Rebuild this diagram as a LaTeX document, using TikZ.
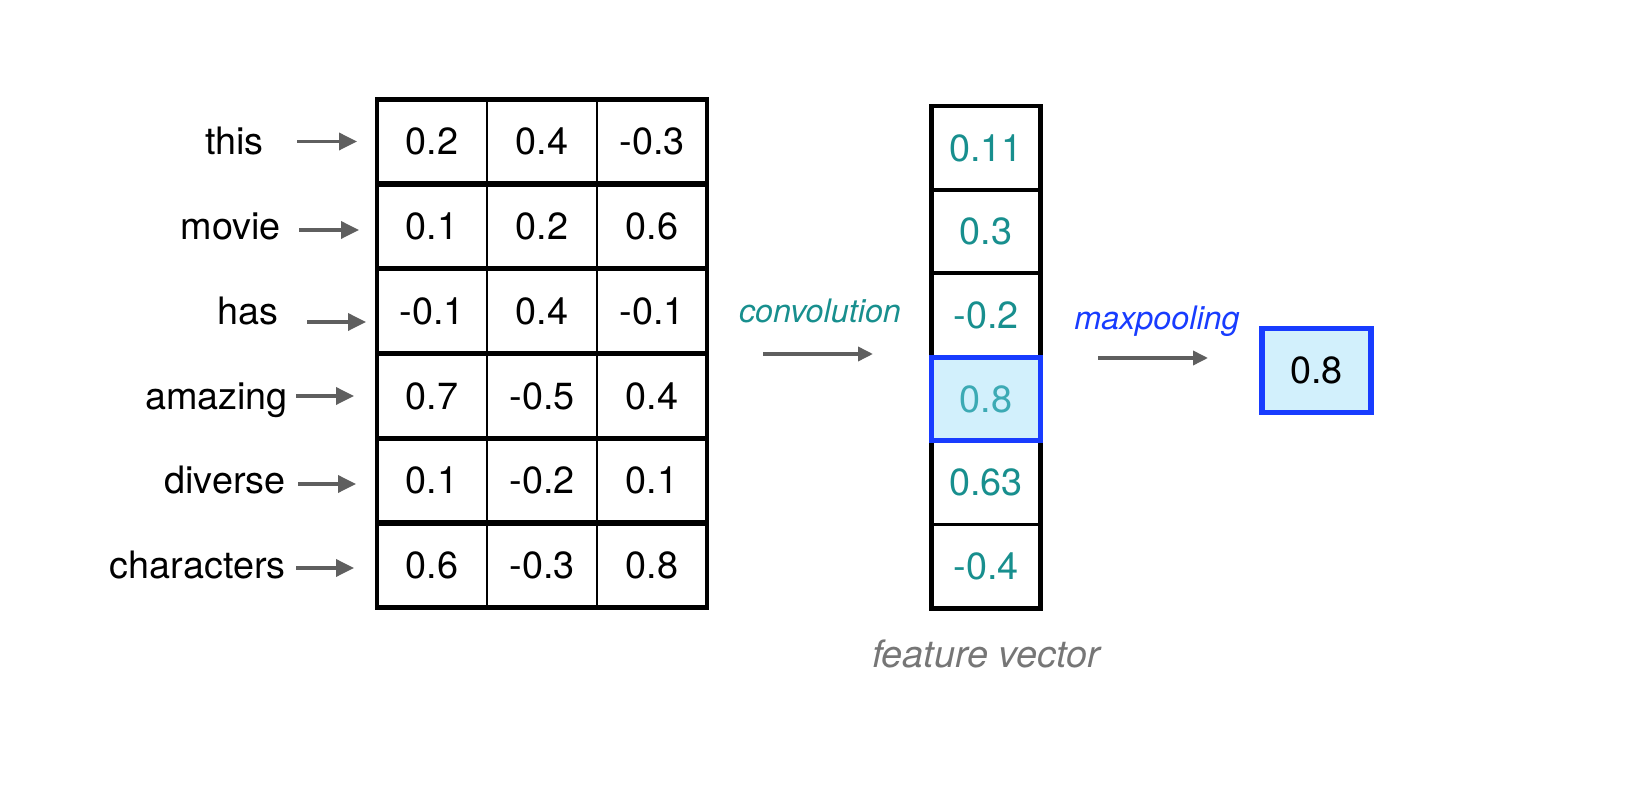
\documentclass[tikz,border=0pt]{standalone}
\usepackage{fontspec}
\setmainfont{TeX Gyre Heros}
\usepackage{tikz}
\usetikzlibrary{arrows.meta,positioning}

\definecolor{tealtext}{RGB}{24,143,142}
\definecolor{picktext}{RGB}{60,170,180}
\definecolor{poolblue}{RGB}{24,60,255}
\definecolor{pickfill}{RGB}{210,240,252}
\definecolor{labelgray}{RGB}{118,118,118}
\definecolor{arrowgray}{RGB}{95,95,95}

\newcommand{\numfont}{\fontsize{21.5}{26}\selectfont}
\newcommand{\opfont}{\fontsize{18.4}{22}\selectfont\itshape}

\begin{document}
\begin{tikzpicture}[
    word/.style={anchor=base east, font=\numfont},
    cell/.style={draw, line width=1.1pt, minimum width=2.2cm, minimum height=1.696cm,
                 inner sep=0pt, outer sep=0pt, font=\numfont},
    rowbox/.style={draw, line width=2.8pt, minimum width=6.6cm, minimum height=1.696cm,
                   inner sep=0pt, outer sep=0pt},
    feat/.style={draw, line width=1.9pt, minimum width=2.18cm, minimum height=1.674cm,
                 inner sep=0pt, outer sep=0pt, font=\numfont, text=tealtext},
    pick/.style={draw=poolblue, line width=3pt, fill=pickfill, minimum width=2.18cm,
                 minimum height=1.674cm, inner sep=0pt, outer sep=0pt, font=\numfont},
    feed/.style={-{Triangle[length=0.36cm, width=0.34cm]}, line width=2pt, arrowgray},
    flow/.style={-{Triangle[length=0.3cm, width=0.28cm]}, line width=2pt, arrowgray},
]
\useasboundingbox (0,0) rectangle (32.56,15.96);

% Word embedding cells
\node[cell] (c11) at (8.64,13.13) {0.2};
\node[cell] (c12) at (10.84,13.13) {0.4};
\node[cell] (c13) at (13.04,13.13) {-0.3};
\node[cell] (c21) at (8.64,11.43) {0.1};
\node[cell] (c22) at (10.84,11.43) {0.2};
\node[cell] (c23) at (13.04,11.43) {0.6};
\node[cell] (c31) at (8.64,9.74) {-0.1};
\node[cell] (c32) at (10.84,9.74) {0.4};
\node[cell] (c33) at (13.04,9.74) {-0.1};
\node[cell] (c41) at (8.64,8.04) {0.7};
\node[cell] (c42) at (10.84,8.04) {-0.5};
\node[cell] (c43) at (13.04,8.04) {0.4};
\node[cell] (c51) at (8.64,6.35) {0.1};
\node[cell] (c52) at (10.84,6.35) {-0.2};
\node[cell] (c53) at (13.04,6.35) {0.1};
\node[cell] (c61) at (8.64,4.65) {0.6};
\node[cell] (c62) at (10.84,4.65) {-0.3};
\node[cell] (c63) at (13.04,4.65) {0.8};

% Thick outline of each row
\node[rowbox] (r1) at (10.84,13.13) {};
\node[rowbox] (r2) at (10.84,11.43) {};
\node[rowbox] (r3) at (10.84,9.74) {};
\node[rowbox] (r4) at (10.84,8.04) {};
\node[rowbox] (r5) at (10.84,6.35) {};
\node[rowbox] (r6) at (10.84,4.65) {};

% Words
\node[word] (w1) at (5.40,12.86) {this};
\node[word] (w2) at (5.74,11.16) {movie};
\node[word] (w3) at (5.70,9.47) {has};
\node[word] (w4) at (5.88,7.77) {amazing};
\node[word] (w5) at (5.84,6.08) {diverse};
\node[word] (w6) at (5.84,4.38) {characters};

% Word -> row arrows
\draw[feed] ([xshift=-1.6cm]r1.west) -- ([xshift=-0.4cm]r1.west);
\draw[feed] ([xshift=-1.56cm, yshift=-0.07cm]r2.west) -- ([xshift=-0.36cm, yshift=-0.07cm]r2.west);
\draw[feed] ([xshift=-1.4cm, yshift=-0.22cm]r3.west) -- ([xshift=-0.22cm, yshift=-0.22cm]r3.west);
\draw[feed] ([xshift=-1.62cm]r4.west) -- ([xshift=-0.46cm]r4.west);
\draw[feed] ([xshift=-1.58cm, yshift=-0.07cm]r5.west) -- ([xshift=-0.42cm, yshift=-0.07cm]r5.west);
\draw[feed] ([xshift=-1.62cm, yshift=-0.05cm]r6.west) -- ([xshift=-0.46cm, yshift=-0.05cm]r6.west);

% Feature vector
\node[feat] (f1) at (19.72,13.00) {0.11};
\node[feat] (f2) at (19.72,11.33) {0.3};
\node[feat] (f3) at (19.72,9.66) {-0.2};
\node[feat] (f4) at (19.72,7.98) {};
\node[feat] (f5) at (19.72,6.31) {0.63};
\node[feat] (f6) at (19.72,4.63) {-0.4};
\draw[line width=2.6pt] (f1.north west) rectangle (f6.south east);
\node[pick, text=picktext] (m) at (f4) {0.8};
\node[font=\numfont\itshape, text=labelgray, anchor=base] (fvlabel) at (19.72,2.62) {feature vector};

% Convolution step
\coordinate (cv0) at (15.26,8.88);
\coordinate (cv1) at (17.46,8.88);
\draw[flow] (cv0) -- (cv1);
\node[font=\opfont, text=tealtext, anchor=base] (conv) at (16.40,9.51) {convolution};

% Max pooling step
\coordinate (mp0) at (21.96,8.80);
\coordinate (mp1) at (24.16,8.80);
\draw[flow] (mp0) -- (mp1);
\node[font=\opfont, text=poolblue, anchor=base] (pool) at (23.14,9.37) {maxpooling};
\node[pick] (out) at (26.33,8.55) {0.8};
\end{tikzpicture}
\end{document}
